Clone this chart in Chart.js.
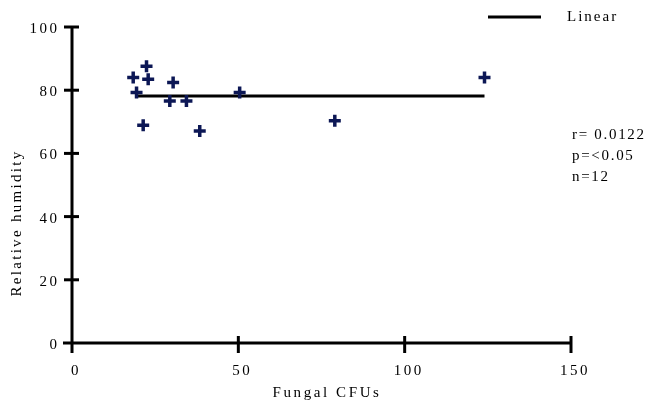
<!DOCTYPE html>
<html>
<head>
<meta charset="utf-8">
<script src="https://cdn.jsdelivr.net/npm/chart.js@4/dist/chart.umd.min.js"></script>
<style>
html,body{margin:0;padding:0;background:#fff;}
#wrap{width:651px;height:405px;position:relative;}
</style>
</head>
<body>
<div id="wrap"><canvas id="c" width="651" height="405"></canvas></div>
<script>
const fungalCFUs = [18.4, 22.4, 22.9, 30.4, 19.4, 29.4, 34.4, 50.4, 21.4, 38.4, 124, 79];
const relHumidity = [84, 87.6, 83.5, 82.4, 79.3, 76.6, 76.6, 79.3, 68.9, 67.1, 84, 70.3];
const fitX = [19, 124];
const fitY = [78.2, 78.2];
const xTicks = [0, 50, 100, 150];
const yTicks = [0, 20, 40, 60, 80, 100];
const statsText = ["r= 0.0122", "p=<0.05", "n=12"];
const legendLabel = "Linear";
const xTitle = "Fungal CFUs";
const yTitle = "Relative humidity";

const serif = "'Liberation Serif', 'DejaVu Serif', serif";

const spacingPlugin = {
  id: 'spacingPlugin',
  beforeDraw(chart) { chart.ctx.letterSpacing = '2.5px'; }
};

const axesPlugin = {
  id: 'axesPlugin',
  afterDatasetsDraw(chart) {
    const ctx = chart.ctx;
    const xs = chart.scales.x, ys = chart.scales.y;
    const x0 = xs.getPixelForValue(0), y0 = ys.getPixelForValue(0);
    ctx.save();
    ctx.strokeStyle = '#000';
    ctx.lineWidth = 3;
    ctx.lineCap = 'butt';
    // y axis
    ctx.beginPath();
    ctx.moveTo(x0, ys.getPixelForValue(100) - 1);
    ctx.lineTo(x0, y0 + 10);
    ctx.stroke();
    // x axis
    ctx.beginPath();
    ctx.moveTo(x0 - 9, y0);
    ctx.lineTo(xs.getPixelForValue(150) + 1, y0);
    ctx.stroke();
    // x ticks
    xTicks.forEach(v => {
      if (v === 0) return;
      const px = xs.getPixelForValue(v);
      ctx.beginPath();
      ctx.moveTo(px, y0 - 7);
      ctx.lineTo(px, y0 + 10);
      ctx.stroke();
    });
    // y ticks
    yTicks.forEach(v => {
      if (v === 0) return;
      const py = ys.getPixelForValue(v);
      ctx.beginPath();
      ctx.moveTo(x0 - 8, py);
      ctx.lineTo(x0 + 7, py);
      ctx.stroke();
    });
    // legend
    ctx.beginPath();
    ctx.moveTo(488, 17);
    ctx.lineTo(541, 17);
    ctx.stroke();
    ctx.fillStyle = '#000';
    ctx.font = "15px " + serif;
    ctx.textBaseline = 'middle';
    ctx.textAlign = 'left';
    ctx.letterSpacing = '2px';
    ctx.fillText(legendLabel, 567, 17);
    // stats
    ctx.letterSpacing = '1.7px';
    statsText.forEach((t, i) => ctx.fillText(t, 572, 135 + i * 21));
    // axis titles
    ctx.letterSpacing = '2.6px';
    ctx.textAlign = 'center';
    ctx.fillText(xTitle, 327, 393);
    ctx.save();
    ctx.translate(17, 223);
    ctx.rotate(-Math.PI / 2);
    ctx.letterSpacing = '2.3px';
    ctx.fillText(yTitle, 0, 0);
    ctx.restore();
    ctx.restore();
  }
};

new Chart(document.getElementById('c'), {
  type: 'scatter',
  data: {
    datasets: [
      {
        type: 'line',
        label: legendLabel,
        data: fitX.map((x, i) => ({x, y: fitY[i]})),
        borderColor: '#000',
        borderWidth: 3,
        pointRadius: 0,
        fill: false,
        order: 2
      },
      {
        label: 'Data',
        data: fungalCFUs.map((x, i) => ({x, y: relHumidity[i]})),
        pointStyle: 'cross',
        radius: 6,
        borderWidth: 3.5,
        borderColor: '#0c1755',
        backgroundColor: '#0c1755',
        order: 1
      }
    ]
  },
  options: {
    responsive: false,
    animation: false,
    layout: { padding: { top: 27, right: 80, left: 0, bottom: 0 } },
    plugins: { legend: { display: false }, tooltip: { enabled: false } },
    scales: {
      x: {
        type: 'linear', min: 0, max: 150,
        afterBuildTicks: s => { s.ticks = xTicks.map(v => ({value: v})); },
        afterFit: s => { s.height = 62; },
        grid: { display: false }, border: { display: false },
        ticks: { color: '#000', font: { family: serif, size: 15 }, padding: 11, labelOffset: 4 },
        title: { display: false }
      },
      y: {
        type: 'linear', min: 0, max: 100,
        afterBuildTicks: s => { s.ticks = yTicks.map(v => ({value: v})); },
        afterFit: s => { s.width = 72; },
        grid: { display: false }, border: { display: false },
        ticks: { color: '#000', font: { family: serif, size: 15 }, padding: 4.5, labelOffset: 2 },
        title: { display: false }
      }
    }
  },
  plugins: [spacingPlugin, axesPlugin]
});
</script>
</body>
</html>
